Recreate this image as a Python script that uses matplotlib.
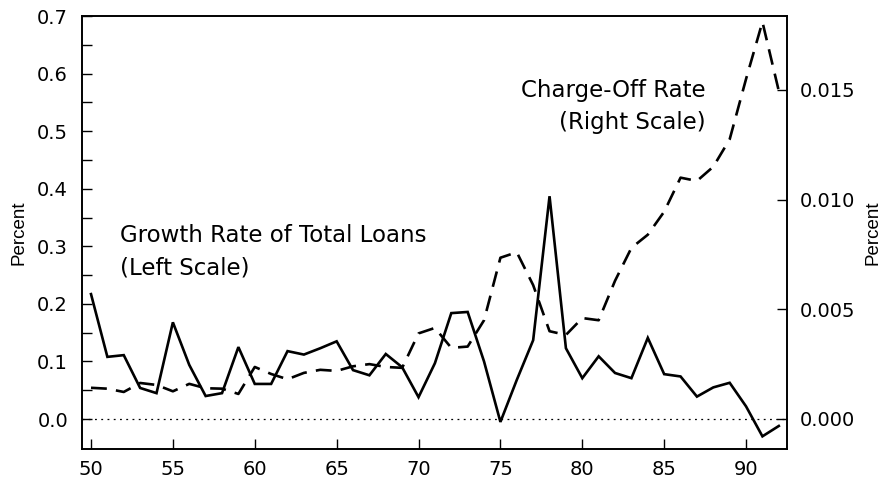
import matplotlib
matplotlib.use('Agg')
import matplotlib.pyplot as plt

# data
years = list(range(50, 93))
growth = [0.217, 0.108, 0.111, 0.054, 0.045, 0.168, 0.094, 0.040, 0.045, 0.125,
          0.061, 0.061, 0.118, 0.112, 0.123, 0.135, 0.085, 0.076, 0.113, 0.090,
          0.038, 0.097, 0.184, 0.186, 0.100, -0.005, 0.068, 0.137, 0.387, 0.123,
          0.071, 0.109, 0.080, 0.071, 0.141, 0.078, 0.074, 0.039, 0.055, 0.063,
          0.022, -0.030, -0.012]
chargeoff = [0.00142, 0.00138, 0.00123, 0.00164, 0.00155, 0.00126, 0.00160, 0.00140,
             0.00138, 0.00114, 0.00237, 0.00205, 0.00181, 0.00210, 0.00224, 0.00219,
             0.00240, 0.00250, 0.00237, 0.00233, 0.00390, 0.00415, 0.00324, 0.00330,
             0.00450, 0.00735, 0.00760, 0.00610, 0.00400, 0.00383, 0.00460, 0.00450,
             0.00630, 0.00780, 0.00840, 0.00945, 0.01100, 0.01085, 0.01150, 0.01275,
             0.01550, 0.01810, 0.01495]

left_ticks = [0.0, 0.1, 0.2, 0.3, 0.4, 0.5, 0.6, 0.7]
right_ticks = [0.000, 0.005, 0.010, 0.015]
x_ticks = [50, 55, 60, 65, 70, 75, 80, 85, 90]

plt.rcParams['font.family'] = ['DejaVu Sans']

fig = plt.figure(figsize=(8.91, 4.8), dpi=100)
ax = fig.add_axes([82 / 891, 1 - 449 / 480, 705 / 891, 433 / 480])
ax2 = ax.twinx()

ax.plot(years, growth, color='black', lw=1.9, solid_joinstyle='miter')
ax.axhline(0, color='black', lw=0.9, ls=(0, (1.5, 3.5)))
ax2.plot(years, chargeoff, color='black', lw=1.9, ls=(0, (6, 3.5)))

ax.set_xlim(49.45, 92.5)
ax.set_ylim(-0.052, 0.70)
ax2.set_ylim(-0.00137, 0.01837)

ax.set_xticks(x_ticks)
ax.set_yticks(left_ticks)
ax.set_yticks([0.05, 0.15, 0.25, 0.35, 0.45, 0.55, 0.65], minor=True)
ax.set_yticklabels([f'{v:.1f}' for v in left_ticks])
ax2.set_yticks(right_ticks)
ax2.set_yticklabels([f'{v:.3f}' for v in right_ticks])

for a in (ax, ax2):
    for s in a.spines.values():
        s.set_linewidth(1.2)
ax.tick_params(axis='both', which='both', direction='in', length=7, width=1,
               labelsize=14, pad=10)
ax.tick_params(axis='x', pad=8)
ax.tick_params(axis='y', which='minor', length=7)
ax2.tick_params(axis='y', direction='in', length=7, width=1, labelsize=14, pad=9)

ax.set_ylabel('Percent', fontsize=13.5, family=['Liberation Sans', 'DejaVu Sans'])
ax.yaxis.set_label_coords(-0.078, 0.5)
ax2.set_ylabel('Percent', fontsize=13.5, family=['Liberation Sans', 'DejaVu Sans'])
ax2.yaxis.set_label_coords(1.11, 0.5)

# annotations
ax.text(0.054, 0.478, 'Growth Rate of Total Loans', transform=ax.transAxes,
        fontsize=16.5, va='baseline', ha='left')
ax.text(0.054, 0.402, '(Left Scale)', transform=ax.transAxes,
        fontsize=16.5, va='baseline', ha='left')
ax.text(0.885, 0.813, 'Charge-Off Rate', transform=ax.transAxes,
        fontsize=16.5, va='baseline', ha='right')
ax.text(0.885, 0.739, '(Right Scale)', transform=ax.transAxes,
        fontsize=16.5, va='baseline', ha='right')

fig.savefig('out.png', dpi=100)
